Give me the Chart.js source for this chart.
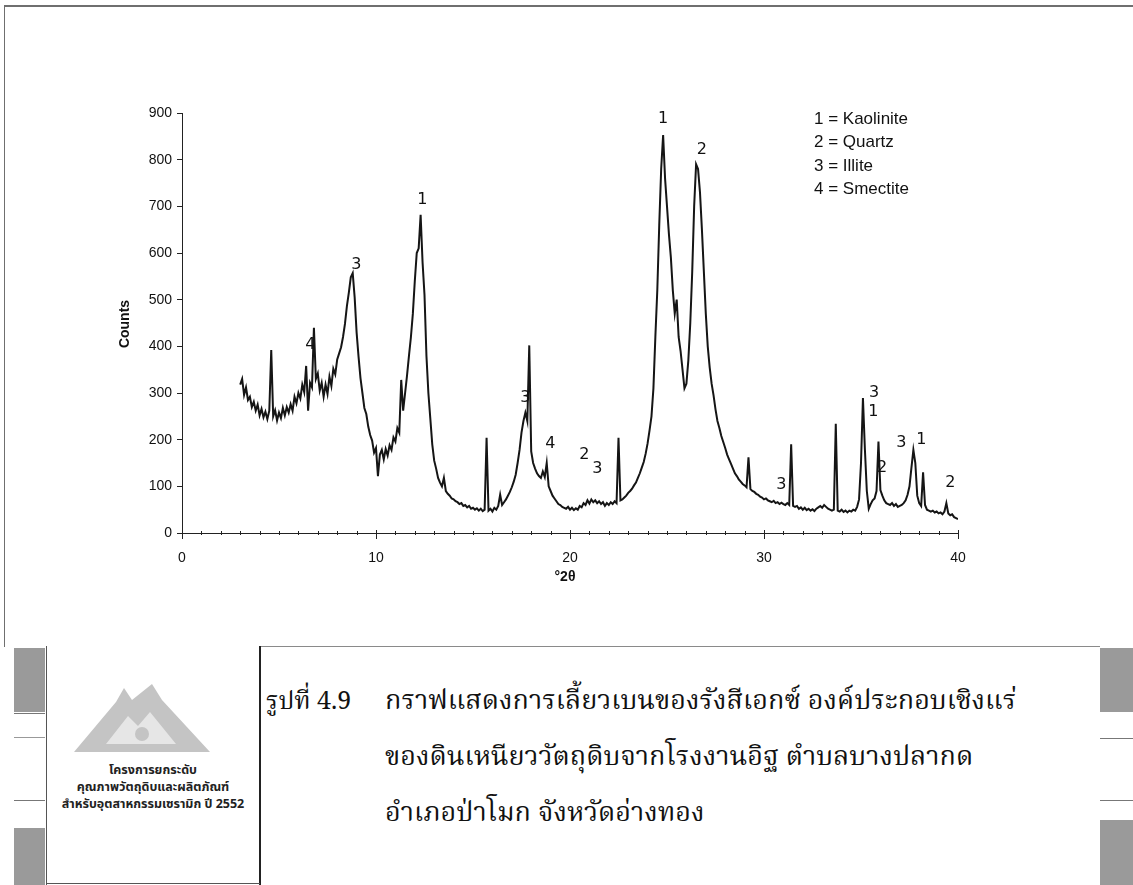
<!DOCTYPE html>
<html lang="th">
<head>
<meta charset="utf-8">
<title>XRD pattern – clay from brick factory</title>
<script src="https://cdn.jsdelivr.net/npm/chart.js@4.4.1/dist/chart.umd.min.js"></script>
<style>
  html, body { margin: 0; padding: 0; background: #fff; }
  body { width: 1133px; height: 885px; position: relative; overflow: hidden; }
  .rule { position: absolute; background: #6f6f6f; }
  #chartWrap { position: absolute; left: 0; top: 0; width: 1133px; height: 640px; }
  .bar { position: absolute; background: #9a9a9a; }
  .thai { position: absolute; white-space: nowrap; color: #111;
          font-family: "Noto Serif Thai", "Noto Sans Thai", "Tlwg Typo", "Norasi", "Loma", "Garuda", "DejaVu Serif", serif; }
  .logoText { position: absolute; left: 46px; width: 214px; text-align: center; color: #222;
              font-family: "Noto Sans Thai", "Loma", "Garuda", "DejaVu Sans", sans-serif;
              font-size: 12.5px; font-weight: bold; line-height: 17px; white-space: nowrap; }
</style>
</head>
<body>
<!-- page frame -->
<div class="rule" style="left:4px;top:5px;width:1129px;height:2px;"></div>
<div class="rule" style="left:4px;top:5px;width:1px;height:642px;"></div>

<div id="chartWrap"><canvas id="xrd" width="1133" height="640"></canvas></div>

<!-- caption block -->
<div class="rule" style="left:260px;top:646px;width:840px;height:1px;background:#8a8a8a;"></div>
<div class="rule" style="left:259px;top:646px;width:2px;height:239px;background:#222;"></div>
<div class="rule" style="left:46px;top:646px;width:1px;height:239px;background:#555;"></div>
<div class="rule" style="left:46px;top:883px;width:214px;height:1px;background:#555;"></div>

<!-- side bars -->
<div class="bar" style="left:14px;top:648px;width:31px;height:64px;"></div>
<div class="rule" style="left:14px;top:713px;width:31px;height:1px;background:#777;"></div>
<div class="rule" style="left:14px;top:737px;width:31px;height:1px;background:#999;"></div>
<div class="rule" style="left:14px;top:800px;width:31px;height:1px;background:#777;"></div>
<div class="bar" style="left:14px;top:828px;width:31px;height:57px;"></div>
<div class="bar" style="left:1100px;top:648px;width:33px;height:64px;"></div>
<div class="rule" style="left:1100px;top:738px;width:33px;height:1px;background:#777;"></div>
<div class="rule" style="left:1100px;top:800px;width:33px;height:1px;background:#777;"></div>
<div class="bar" style="left:1100px;top:820px;width:33px;height:65px;"></div>

<!-- logo -->
<svg style="position:absolute;left:72px;top:682px;" width="140" height="72" viewBox="0 0 140 72">
  <polygon points="2,70 44,20 52,6 60,18 70,10 80,2 90,18 138,70" fill="#c4c4c4"/>
  <polygon points="34,62 56,34 66,44 78,30 104,62" fill="#e6e6e6"/>
  <circle cx="70" cy="52" r="7" fill="#c4c4c4"/>
</svg>
<div class="logoText" style="top:762px;">โครงการยกระดับ</div>
<div class="logoText" style="top:779px;">คุณภาพวัตถุดิบและผลิตภัณฑ์</div>
<div class="logoText" style="top:796px;">สำหรับอุตสาหกรรมเซรามิก ปี 2552</div>

<div class="thai" style="left:266px;top:682px;font-size:25px;">รูปที่ 4.9</div>
<div class="thai" style="left:385px;top:680px;font-size:27px;">กราฟแสดงการเลี้ยวเบนของรังสีเอกซ์ องค์ประกอบเชิงแร่</div>
<div class="thai" style="left:385px;top:736px;font-size:27px;">ของดินเหนียววัตถุดิบจากโรงงานอิฐ ตำบลบางปลากด</div>
<div class="thai" style="left:385px;top:792px;font-size:27px;">อำเภอป่าโมก จังหวัดอ่างทอง</div>

<script>
// Step scan: 2θ from 3.0° to 40.0°, 0.1° per step
const scanStart = 3.0;
const scanStep = 0.1;

// Counts per step, one row per whole degree (x.0 … x.9)
const countsLow = [
  318,330,296,312,285,292,270,281,262,275, // 3
  252,266,248,260,244,262,392,250,263,241, // 4
  258,246,268,252,270,258,276,262,292,278, // 5
  300,288,318,302,358,262,322,312,440,330, // 6
  342,305,322,292,318,298,335,315,352,340, // 7
  372,385,398,420,448,486,515,548,557,505, // 8
  430,378,332,300,268,255,228,210,198,172, // 9
  182,122,168,178,158,180,166,188,178,205, // 10
  196,225,215,328,262,300,338,380,420,470, // 11
  540,600,610,682,580,510,380,300,245,190, // 12
  155,138,118,108,100,118,90,84,80,74      // 13
];
const countsMid = [
  72,68,66,62,64,58,60,55,58,52,           // 14
  54,50,53,48,52,47,50,204,48,52,          // 15
  46,54,50,58,82,60,66,72,80,88,           // 16
  98,110,125,150,178,215,240,258,240,402,  // 17
  175,150,138,128,122,118,132,120,150,100, // 18
  90,80,74,68,62,60,56,54,52,56,           // 19
  50,54,49,53,50,58,55,64,60,70,           // 20
  63,72,66,70,64,68,62,66,58,64,           // 21
  60,66,62,68,64,204,70,72,76,80,          // 22
  86,90,95,102,108,118,128,140,152,170     // 23
];
const countsHigh = [
  192,220,250,310,420,520,660,780,853,760, // 24
  700,640,590,520,470,500,420,390,350,310, // 25
  320,370,450,560,700,790,780,730,650,560, // 26
  470,400,355,320,295,265,240,225,208,195, // 27
  182,168,158,148,138,128,122,115,110,105, // 28
  102,98,162,94,90,88,84,82,78,76,         // 29
  72,74,70,68,66,69,64,66,62,65,           // 30
  62,60,64,60,190,58,56,58,52,55,          // 31
  50,54,49,52,48,51,47,52,55,58,           // 32
  54,60,56,52,50,48,50,234,48,46,          // 33
  50,45,48,44,48,46,50,48,56,72,           // 34
  150,289,180,90,52,62,70,74,90,196,       // 35
  92,80,70,64,62,60,64,58,62,56,           // 36
  58,60,64,70,82,100,140,178,150,80,       // 37
  64,58,130,60,50,48,46,48,44,46,          // 38
  42,44,40,46,64,42,38,40,34,32,           // 39
  30                                       // 40
];

// Mineral markers: label, 2θ, counts at the label centre
const markerText  = ['4','3','1','3','4','2','3','1','2','3','3','1','2','3','1','2'];
const markerTheta = [6.62,8.99,12.39,17.70,18.99,20.74,21.41,24.80,26.80,30.90,35.68,35.63,36.09,37.08,38.11,39.60];
const markerCount = [403,575,714,289,191,168,137,888,820,103,300,259,139,193,200,107];

const legendLines = ['1 = Kaolinite', '2 = Quartz', '3 = Illite', '4 = Smectite'];

const xTickLabels = [0, 10, 20, 30, 40];
const yTickStep = 100;

const counts = countsLow.concat(countsMid, countsHigh);
const points = counts.map((c, i) => ({ x: +(scanStart + i * scanStep).toFixed(1), y: c }));

const decor = {
  id: 'xrdDecor',
  afterDraw(chart) {
    const { ctx, chartArea: a, scales: { x, y } } = chart;
    ctx.save();
    // minor/major tick marks across the 2θ axis
    ctx.strokeStyle = '#222';
    ctx.lineWidth = 1;
    for (let v = 0; v <= 40; v++) {
      const px = Math.round(x.getPixelForValue(v)) + 0.5;
      const major = xTickLabels.includes(v);
      ctx.beginPath();
      ctx.moveTo(px, a.bottom - (major ? 3 : 2));
      ctx.lineTo(px, a.bottom + (major ? 6 : 2));
      ctx.stroke();
    }
    // axis titles
    ctx.fillStyle = '#111';
    ctx.font = 'bold 14px "Liberation Sans", Arial, sans-serif';
    ctx.textAlign = 'center';
    ctx.textBaseline = 'middle';
    ctx.fillText('°2θ', x.getPixelForValue(20) - 5, a.bottom + 44);
    ctx.save();
    ctx.translate(a.left - 57, (a.top + a.bottom) / 2 + 1);
    ctx.rotate(-Math.PI / 2);
    ctx.fillText('Counts', 0, 0);
    ctx.restore();
    // mineral markers
    ctx.font = '16px "DejaVu Sans", Verdana, sans-serif';
    ctx.fillStyle = '#111';
    markerText.forEach((t, i) => {
      ctx.fillText(t, x.getPixelForValue(markerTheta[i]), y.getPixelForValue(markerCount[i]));
    });
    // key
    ctx.font = '17px "Liberation Sans", Arial, sans-serif';
    ctx.textAlign = 'left';
    legendLines.forEach((t, i) => {
      ctx.fillText(t, a.left + 632, a.top + 6 + i * 23.5);
    });
    ctx.restore();
  }
};

new Chart(document.getElementById('xrd'), {
  type: 'line',
  data: {
    datasets: [{
      data: points,
      borderColor: '#151515',
      borderWidth: 2,
      pointRadius: 0,
      tension: 0,
      fill: false
    }]
  },
  options: {
    responsive: false,
    animation: false,
    devicePixelRatio: 1,
    layout: { padding: { left: 0, top: 113, right: 175, bottom: 0 } },
    plugins: { legend: { display: false }, tooltip: { enabled: false } },
    scales: {
      x: {
        type: 'linear',
        min: 0, max: 40,
        afterFit: s => { s.height = 107; },
        grid: { display: false, drawTicks: false },
        border: { display: true, color: '#222', width: 1 },
        ticks: {
          stepSize: 10, padding: 17, color: '#111', maxRotation: 0,
          font: { size: 14, family: '"Liberation Sans", Arial, sans-serif' },
          callback: v => (xTickLabels.includes(v) ? String(v) : '')
        }
      },
      y: {
        min: 0, max: 900,
        afterFit: s => { s.width = 182; },
        grid: { drawOnChartArea: false, drawTicks: true, tickLength: 5, color: '#222' },
        border: { display: true, color: '#222', width: 1 },
        ticks: {
          stepSize: yTickStep, padding: 5, color: '#111',
          font: { size: 14, family: '"Liberation Sans", Arial, sans-serif' }
        }
      }
    }
  },
  plugins: [decor]
});
</script>
</body>
</html>
